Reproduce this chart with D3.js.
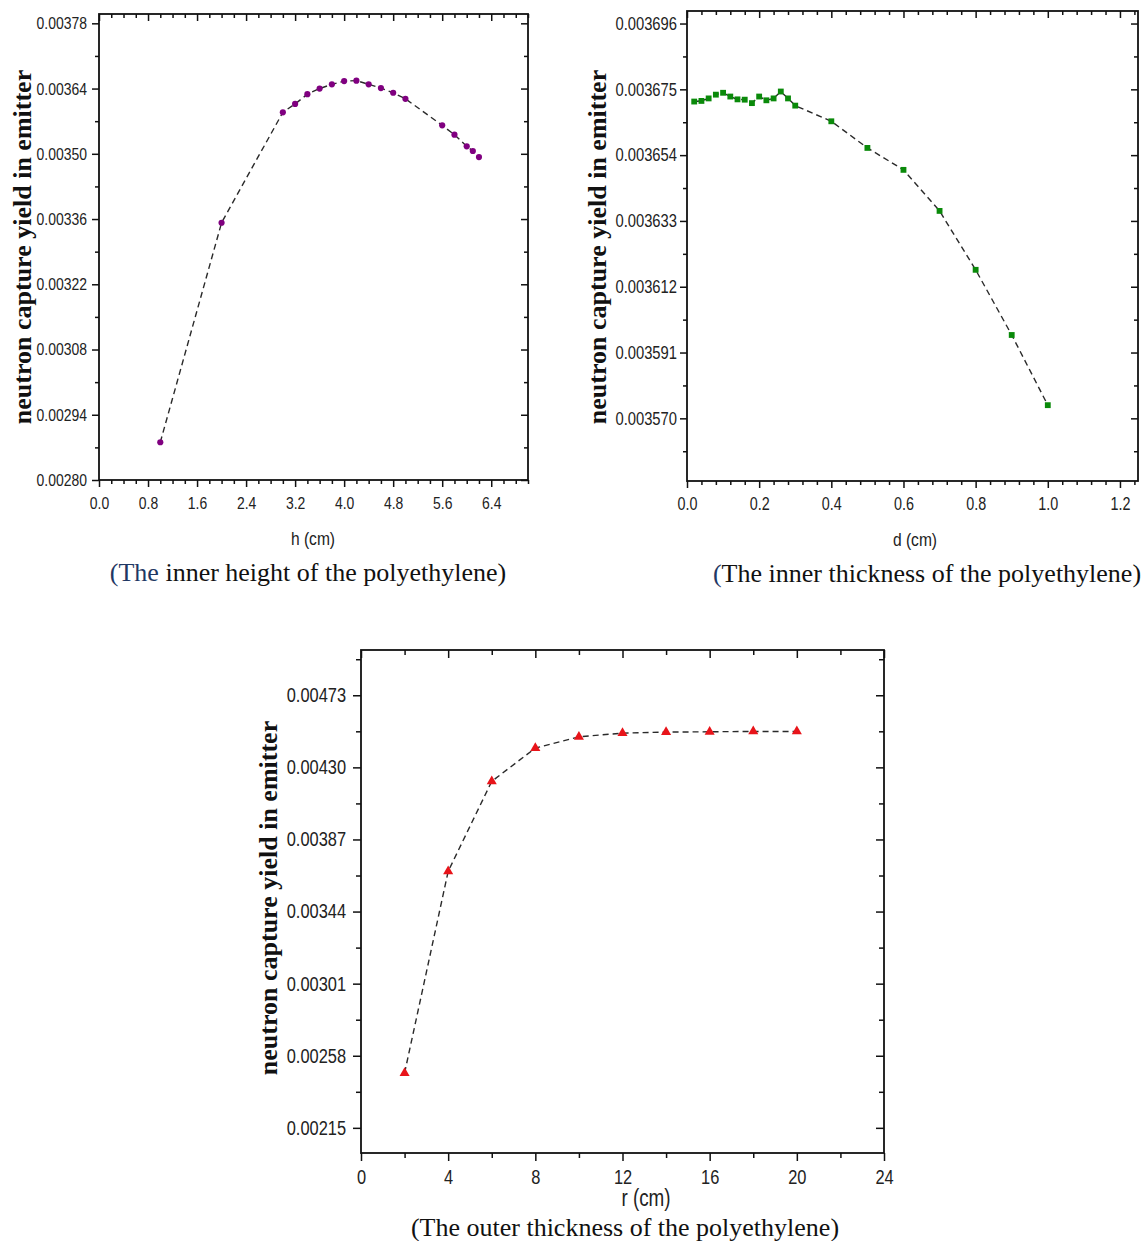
<!DOCTYPE html>
<html>
<head>
<meta charset="utf-8">
<script src="https://cdn.jsdelivr.net/npm/d3@7"></script>
<style>
  html, body { margin: 0; padding: 0; background: #fff; }
  svg { display: block; }
</style>
</head>
<body>
<svg id="fig" width="1146" height="1241"></svg>
<script>
// Inner height h of the polyethylene (cm) and neutron capture yield
const hCm = [1.0, 2.0, 3.0, 3.2, 3.4, 3.6, 3.8, 4.0, 4.2, 4.4, 4.6, 4.8, 5.0, 5.6, 5.8, 6.0, 6.1, 6.2];
const hYield = [0.002881, 0.003352, 0.003589, 0.003607, 0.003628, 0.003640, 0.003649, 0.003656,
                0.003657, 0.003649, 0.003641, 0.003631, 0.003618, 0.003561, 0.003541, 0.003516,
                0.003506, 0.003493];

// Inner thickness d of the polyethylene (cm)
const dCm = [0.02, 0.04, 0.06, 0.08, 0.10, 0.12, 0.14, 0.16, 0.18, 0.20, 0.22, 0.24, 0.26, 0.28, 0.30,
             0.4, 0.5, 0.6, 0.7, 0.8, 0.9, 1.0];
const dYield = [0.0036711, 0.0036713, 0.0036721, 0.0036733, 0.0036739, 0.0036727, 0.0036718, 0.0036717,
                0.0036706, 0.0036727, 0.0036715, 0.0036721, 0.0036743, 0.0036721, 0.0036698,
                0.0036648, 0.0036563, 0.0036493, 0.0036362, 0.0036174, 0.0035966, 0.0035742];

// Outer thickness r of the polyethylene (cm)
const rCm = [2, 4, 6, 8, 10, 12, 14, 16, 18, 20];
const rYield = [0.002477, 0.0036795, 0.0042167, 0.004415, 0.0044825, 0.0045043, 0.0045103, 0.0045123,
                0.0045143, 0.0045143];

// Tick values
const hTicks = [0.0, 0.8, 1.6, 2.4, 3.2, 4.0, 4.8, 5.6, 6.4];
const hYTicks = [0.00280, 0.00294, 0.00308, 0.00322, 0.00336, 0.00350, 0.00364, 0.00378];
const dTicks = [0.0, 0.2, 0.4, 0.6, 0.8, 1.0, 1.2];
const dYTicks = [0.003570, 0.003591, 0.003612, 0.003633, 0.003654, 0.003675, 0.003696];
const rTicks = [0, 4, 8, 12, 16, 20, 24];
const rYTicks = [0.00215, 0.00258, 0.00301, 0.00344, 0.00387, 0.00430, 0.00473];

const yTitle = "neutron capture yield in emitter";
const SANS = "'Liberation Sans', Arial, sans-serif";
const SERIF = "'Liberation Serif', 'Times New Roman', serif";
const CONDENSE = 0.82;   // narrow look for the axis lettering

const svg = d3.select("#fig");
svg.append("rect").attr("width", 1146).attr("height", 1241).attr("fill", "#fff");

function minorValues(domain, step, majors) {
  const out = [];
  for (let v = domain[0]; v <= domain[1] + step * 1e-6; v += step) {
    const r = Math.round(v / step) * step;
    if (!majors.some(m => Math.abs(m - r) < step * 1e-3)) out.push(r);
  }
  return out;
}

// squeeze text horizontally, keeping its anchor
function condense(sel) {
  sel.each(function () {
    const w = this.getComputedTextLength();
    d3.select(this).attr("textLength", w * CONDENSE).attr("lengthAdjust", "spacingAndGlyphs");
  });
}

function drawPanel(o) {
  const g = svg.append("g");
  const x = d3.scaleLinear().domain(o.xDomain).range([o.left, o.left + o.width]);
  const y = d3.scaleLinear().domain(o.yDomain).range([o.top + o.height, o.top]);
  const bottom = o.top + o.height, right = o.left + o.width;

  const xMinor = minorValues(o.xDomain, o.xMinor, o.xTicks);
  const y0 = o.yTicks[0] - o.yMinor * Math.ceil((o.yTicks[0] - o.yDomain[0]) / o.yMinor);
  const yMinor = minorValues([y0, o.yDomain[1]], o.yMinor, o.yTicks)
    .filter(v => v >= o.yDomain[0] && v <= o.yDomain[1]);

  const styleAxis = (sel, fontSize) => {
    sel.select(".domain").remove();
    sel.selectAll(".tick line").attr("stroke", "#111").attr("stroke-width", 1.5);
    sel.selectAll(".tick text").attr("font-family", SANS).attr("font-size", fontSize)
      .attr("fill", "#222").call(condense);
  };

  // bottom axis, outward ticks with labels
  g.append("g").attr("transform", `translate(0,${bottom})`)
    .call(d3.axisBottom(x).tickValues(o.xTicks).tickFormat(d3.format(o.xFmt))
      .tickSizeInner(o.major).tickSizeOuter(0).tickPadding(o.xPad)).call(styleAxis, o.xTickFont);
  g.append("g").attr("transform", `translate(0,${bottom})`)
    .call(d3.axisBottom(x).tickValues(xMinor).tickFormat("").tickSize(o.minor)).call(styleAxis);

  // left axis, outward ticks with labels
  g.append("g").attr("transform", `translate(${o.left},0)`)
    .call(d3.axisLeft(y).tickValues(o.yTicks).tickFormat(d3.format(o.yFmt))
      .tickSizeInner(o.major).tickSizeOuter(0).tickPadding(o.yPad)).call(styleAxis, o.yTickFont);
  g.append("g").attr("transform", `translate(${o.left},0)`)
    .call(d3.axisLeft(y).tickValues(yMinor).tickFormat("").tickSize(o.minor)).call(styleAxis);

  // mirrored top and right axes, inward ticks
  g.append("g").attr("transform", `translate(0,${o.top})`)
    .call(d3.axisTop(x).tickValues(o.xTicks).tickFormat("").tickSize(-o.major)).call(styleAxis);
  g.append("g").attr("transform", `translate(0,${o.top})`)
    .call(d3.axisTop(x).tickValues(xMinor).tickFormat("").tickSize(-o.minor)).call(styleAxis);
  g.append("g").attr("transform", `translate(${right},0)`)
    .call(d3.axisRight(y).tickValues(o.yTicks).tickFormat("").tickSize(-o.major)).call(styleAxis);
  g.append("g").attr("transform", `translate(${right},0)`)
    .call(d3.axisRight(y).tickValues(yMinor).tickFormat("").tickSize(-o.minor)).call(styleAxis);

  // frame
  g.append("rect").attr("x", o.left).attr("y", o.top).attr("width", o.width).attr("height", o.height)
    .attr("fill", "none").attr("stroke", "#111").attr("stroke-width", 1.8);

  // dashed connecting line
  const pts = o.xs.map((v, i) => [v, o.ys[i]]);
  g.append("path").datum(pts)
    .attr("d", d3.line().x(d => x(d[0])).y(d => y(d[1])))
    .attr("fill", "none").attr("stroke", "#2a2a2a").attr("stroke-width", 1.4)
    .attr("stroke-dasharray", "6,4");

  // markers
  g.append("g").selectAll("path").data(pts).join("path")
    .attr("transform", d => `translate(${x(d[0])},${y(d[1])})`)
    .attr("d", d3.symbol().type(o.symbol).size(o.symbolSize))
    .attr("fill", o.color);

  // axis titles
  g.append("text").attr("x", o.xTitleX).attr("y", o.xTitleY)
    .attr("text-anchor", "middle").attr("font-family", SANS).attr("font-size", o.xTitleFont)
    .attr("fill", "#222").text(o.xTitle).call(condense);
  g.append("text")
    .attr("transform", `translate(${o.yTitleX},${o.yTitleY}) rotate(-90)`)
    .attr("text-anchor", "middle").attr("dy", "0.35em")
    .attr("font-family", SERIF).attr("font-weight", "bold").attr("font-size", 26)
    .attr("fill", "#111").text(yTitle);

  // caption
  const cap = g.append("text").attr("x", o.capX).attr("y", o.capY)
    .attr("text-anchor", "middle").attr("font-family", SERIF).attr("font-size", 26).attr("fill", "#111");
  if (o.capLead) cap.append("tspan").attr("fill", "#1f3864").text(o.capLead);
  cap.append("tspan").text(o.capRest);
}

drawPanel({
  left: 99, top: 14, width: 429, height: 466,
  xDomain: [0, 7.0], yDomain: [0.0028, 0.0038],
  xTicks: hTicks, xMinor: 0.2, yTicks: hYTicks, yMinor: 0.00007,
  xFmt: ".1f", yFmt: ".5f", xTickFont: 17, yTickFont: 17, major: 7, minor: 4, xPad: 10, yPad: 5,
  xs: hCm, ys: hYield, symbol: d3.symbolCircle, symbolSize: 30, color: "#800080",
  xTitle: "h (cm)", xTitleX: 313, xTitleY: 545, xTitleFont: 19,
  yTitleX: 22, yTitleY: 247,
  capX: 308, capY: 581, capLead: "(The", capRest: " inner height of the polyethylene)"
});

drawPanel({
  left: 687, top: 11, width: 451, height: 470,
  xDomain: [0, 1.25], yDomain: [0.00355, 0.0037],
  xTicks: dTicks, xMinor: 0.04, yTicks: dYTicks, yMinor: 0.0000105,
  xFmt: ".1f", yFmt: ".6f", xTickFont: 17.5, yTickFont: 18, major: 7, minor: 4, xPad: 10, yPad: 3,
  xs: dCm, ys: dYield, symbol: d3.symbolSquare, symbolSize: 34, color: "#0a8a0a",
  xTitle: "d (cm)", xTitleX: 915, xTitleY: 546, xTitleFont: 19,
  yTitleX: 597, yTitleY: 247,
  capX: 927, capY: 582, capLead: "(", capRest: "The inner thickness of the polyethylene)"
});

drawPanel({
  left: 361, top: 650, width: 523, height: 503,
  xDomain: [0, 24], yDomain: [0.002, 0.005],
  xTicks: rTicks, xMinor: 2, yTicks: rYTicks, yMinor: 0.000215,
  xFmt: "d", yFmt: ".5f", xTickFont: 20, yTickFont: 20, major: 8, minor: 5, xPad: 9, yPad: 7,
  xs: rCm, ys: rYield, symbol: d3.symbolTriangle, symbolSize: 44, color: "#e8141a",
  xTitle: "r (cm)", xTitleX: 646, xTitleY: 1206, xTitleFont: 23,
  yTitleX: 268, yTitleY: 898,
  capX: 625, capY: 1236, capLead: "", capRest: "(The outer thickness of the polyethylene)"
});
</script>
</body>
</html>
